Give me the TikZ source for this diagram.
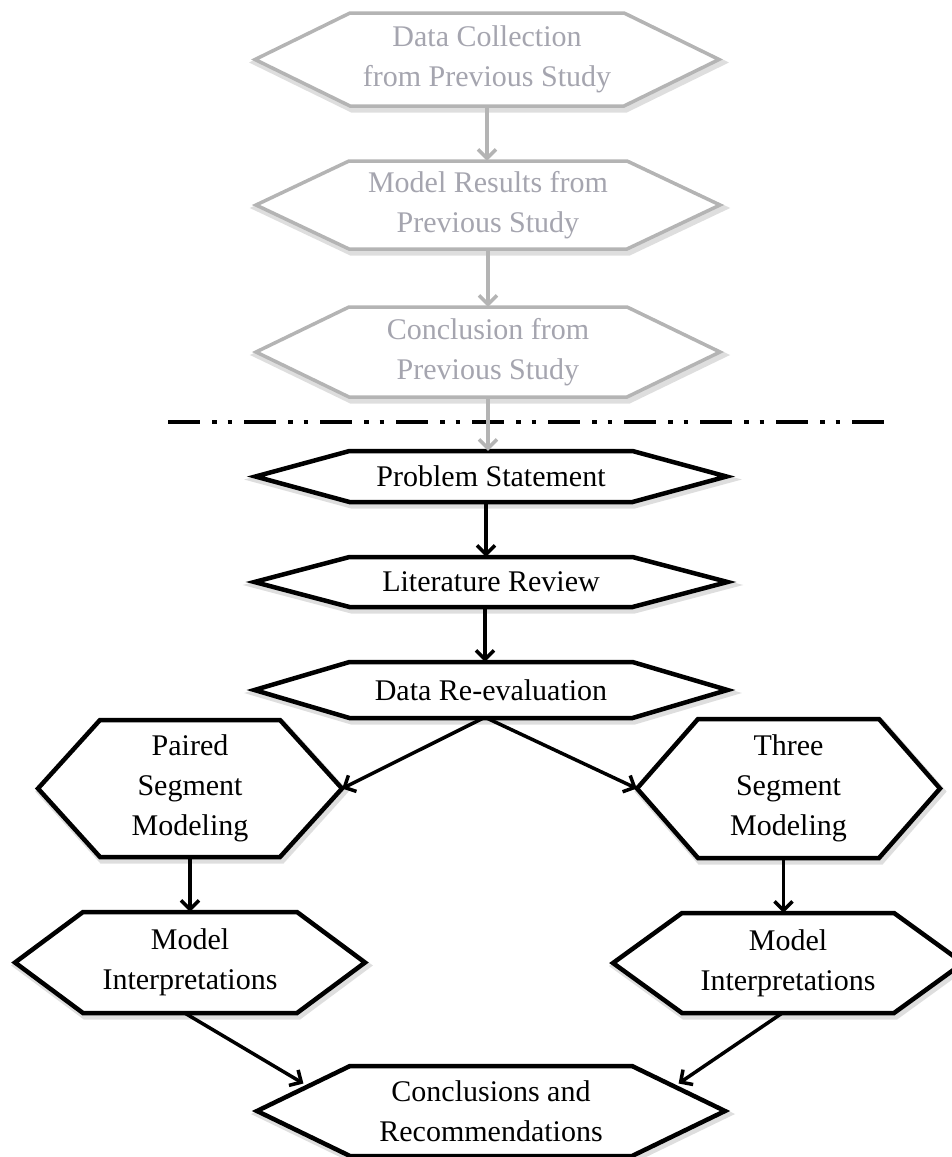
\documentclass[tikz,border=0pt]{standalone}
\usepackage{fontspec}
\setmainfont{Liberation Serif}
\usetikzlibrary{arrows.meta,calc}
\definecolor{lgray}{RGB}{180,180,180}
\definecolor{tgray}{RGB}{165,165,175}
\definecolor{shadowc}{RGB}{222,222,222}
% #1 style prefix (grey/black), #2 name, #3 cx, #4 cy, #5 half width, #6 half height, #7 inset, #8 text
\newcommand{\hexnode}[8]{%
  \draw[hexshadow] ({#3-#5+2},{#4+3}) -- ++(#7,-#6) -- ++({2*#5-2*#7},0) -- ++(#7,#6) -- ++(-#7,#6) -- ++({-2*#5+2*#7},0) -- cycle;
  \draw[#1line] ({#3-#5},#4) -- ++(#7,-#6) coordinate (#2-tl) -- ++({2*#5-2*#7},0) coordinate (#2-tr) -- ++(#7,#6) -- ++(-#7,#6) coordinate (#2-br) -- ++({-2*#5+2*#7},0) coordinate (#2-bl) -- cycle;
  \node[hbox, #1text, minimum width={2*#5}, minimum height={2*#6}] (#2) at (#3,#4) {#8};
}
\begin{document}
\begin{tikzpicture}[x=1pt,y=-1pt,
  hbox/.style={inner sep=0pt, align=center, font=\fontsize{30}{40}\selectfont},
  greytext/.style={text=tgray},
  blacktext/.style={text=black},
  hexshadow/.style={draw=shadowc, line width=7pt, line join=miter},
  greyline/.style={draw=lgray, line width=3.5pt, line join=miter, fill=white},
  blackline/.style={draw=black, line width=4.5pt, line join=miter, fill=white},
  garrow/.style={draw=lgray, line width=3.5pt, -{Straight Barb[length=9pt,width=18pt]}},
  barrow/.style={draw=black, line width=3.5pt, -{Straight Barb[length=9pt,width=18pt]}},
  sepline/.style={draw=black, line width=4pt, dash pattern=on 32pt off 12pt on 4.5pt off 11pt on 4.5pt off 12pt},
]
\useasboundingbox (0,0) rectangle (952,1157);

\hexnode{grey}{h1}{487}{59.5}{232}{46.5}{95}{Data Collection\\from Previous Study}
\hexnode{grey}{h2}{488}{205}{232}{44}{93}{Model Results from\\Previous Study}
\hexnode{grey}{h3}{488}{352}{232}{45}{93}{Conclusion from\\Previous Study}

\hexnode{black}{ps}{491}{476.5}{235.5}{25.5}{94}{Problem Statement}
\hexnode{black}{lr}{491}{582}{236.5}{25}{95}{Literature Review}
\hexnode{black}{dr}{491}{690}{236.5}{28}{95}{Data Re-evaluation}

\hexnode{black}{psm}{190}{788.5}{152}{68.5}{62}{Paired\\Segment\\Modeling}
\hexnode{black}{tsm}{788.5}{788.5}{151.5}{69.5}{61}{Three\\Segment\\Modeling}

\hexnode{black}{mil}{190}{962.5}{175}{50.5}{68}{Model\\Interpretations}
\hexnode{black}{mir}{788}{963}{175}{50}{69}{Model\\Interpretations}

\hexnode{black}{cr}{491}{1111}{234}{45}{93}{Conclusions and\\Recommendations}

\coordinate (sepL) at (168,422);
\coordinate (sepR) at (884,422);
\draw[sepline] (sepL) -- (sepR);

\draw[garrow] (h1.south) -- (h1.south |- h2.north);
\draw[garrow] (h2.south) -- (h2.south |- h3.north);
\draw[garrow] (h3.south) -- (h3.south |- ps.north);

\draw[barrow] ([xshift=-5pt]ps.south) -- ([xshift=-5pt]lr.north);
\draw[barrow] ([xshift=-6pt]lr.south) -- ([xshift=-6pt]dr.north);
\draw[barrow] ([xshift=-8pt]dr.south) -- (psm.east);
\draw[barrow] ([xshift=-4pt]dr.south) -- (tsm.west);
\draw[barrow] (psm.south) -- (mil.north);
\draw[barrow] ([xshift=-5pt]tsm.south) -- ([xshift=-5pt]tsm.south |- mir.north);
\draw[barrow] ([xshift=-5pt]mil.south) -- ($(cr.west)!0.5!(cr-tl)+(0,-5)$);
\draw[barrow] ([xshift=-6pt]mir.south) -- ($(cr.east)!0.5!(cr-tr)+(0,-5)$);
\end{tikzpicture}
\end{document}
